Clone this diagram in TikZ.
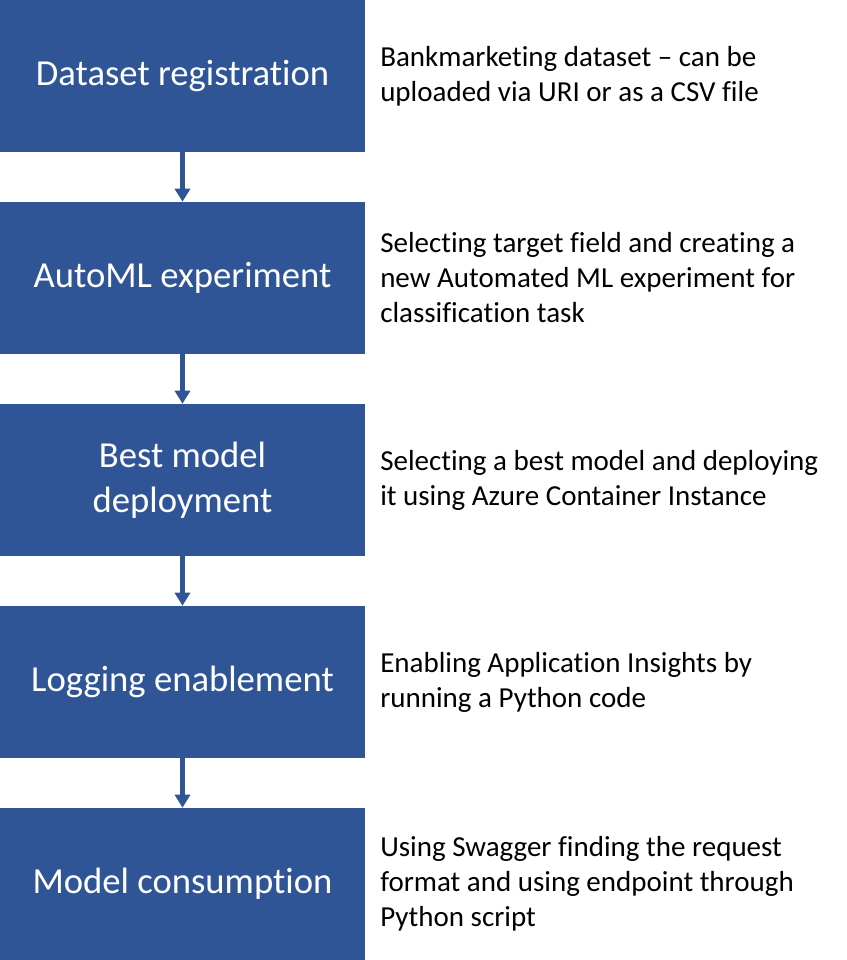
\documentclass[tikz,border=0pt]{standalone}
\usepackage{fontspec}
\setmainfont[Ligatures={TeX,NoCommon}]{Carlito}
\usepackage{tikz}
\usetikzlibrary{arrows.meta}
\usepackage{xcolor}
\definecolor{stepBlue}{RGB}{47,85,151}

\begin{document}
\begin{tikzpicture}[
    x=0.75pt, y=-0.75pt,
    stage/.style={rectangle, fill=stepBlue, text=white, minimum width=273.75pt, minimum height=114pt, inner sep=0pt, align=center, font=\fontsize{27.5}{33.75}\selectfont},
    desc/.style={anchor=west, inner sep=0pt, align=left, text=black, font=\fontsize{21.75}{26.25}\selectfont},
    flow/.style={-{Triangle[width=11.25pt, length=9.75pt]}, line width=3.75pt, draw=stepBlue}
]
\useasboundingbox (0,0) rectangle (846,960);

% Pipeline stages
\node[stage] (dataset) at (182.5,76)  {Dataset registration};
\node[stage] (automl)  at (182.5,278) {AutoML experiment};
\node[stage] (deploy)  at (182.5,480) {Best model\\deployment};
\node[stage] (logging) at (182.5,682) {Logging enablement};
\node[stage] (consume) at (182.5,884) {Model consumption};

% Descriptions
\node[desc] (datasetDesc) at (380,76)  {Bankmarketing dataset -- can be\\uploaded via URI or as a CSV file};
\node[desc] (automlDesc)  at (380,278) {Selecting target field and creating a\\new Automated ML experiment for\\classification task};
\node[desc] (deployDesc)  at (380,480) {Selecting a best model and deploying\\it using Azure Container Instance};
\node[desc] (loggingDesc) at (380,682) {Enabling Application Insights by\\running a Python code};
\node[desc] (consumeDesc) at (380,884) {Using Swagger finding the request\\format and using endpoint through\\Python script};

% Connections
\draw[flow] (dataset) -- (automl);
\draw[flow] (automl) -- (deploy);
\draw[flow] (deploy) -- (logging);
\draw[flow] (logging) -- (consume);

\end{tikzpicture}
\end{document}
